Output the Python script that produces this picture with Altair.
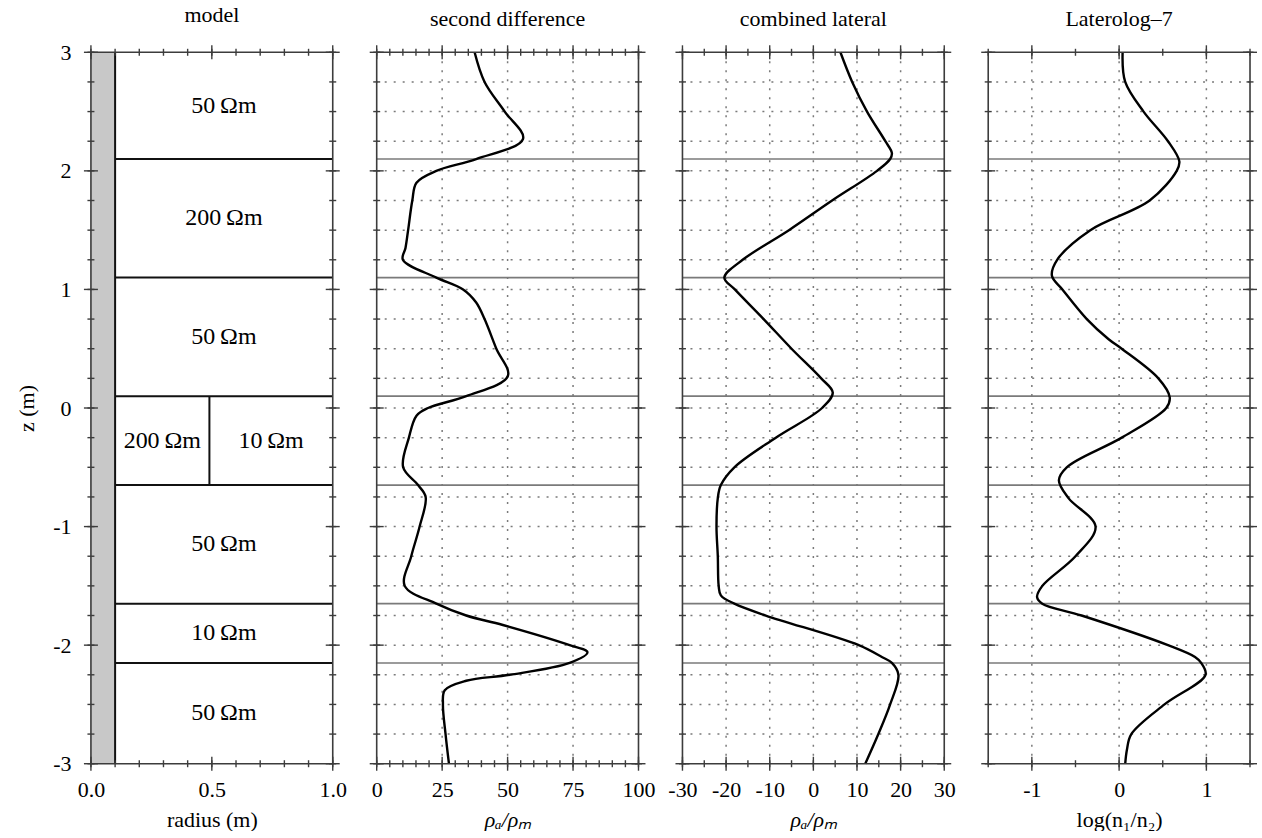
import numpy as np
import pandas as pd
import altair as alt

FONT = "Liberation Serif"
FS = 22
H = 712
W_MODEL = 242
W_LOG = 262
INK = "#111111"
FRAME = "#3c3c3c"
GRID = "#7a7a7a"
LAYER_LINE = "#7a7a7a"
HYPHEN_MINUS = "replace(datum.label, '\u2212', '-')"

# ---- depth axis -------------------------------------------------------------
Z_DOMAIN = [-3, 3]
Z_MAJOR = [-3, -2, -1, 0, 1, 2, 3]
Z_MINOR = [float(z) for z in np.round(np.arange(-3, 3.001, 0.25), 2)]
Z_GRID = [z for z in Z_MINOR if -3 < z < 3]

# ---- formation model --------------------------------------------------------
BOUNDARY_Z = [2.1, 1.1, 0.1, -0.65, -1.65, -2.15]
BOREHOLE_R = 0.1
OUTER_R = 1.0
INVADED_R = 0.49
INVADED_TOP = 0.1
INVADED_BOTTOM = -0.65
LAYER_LABELS = ["50\u2009Ωm", "200\u2009Ωm", "50\u2009Ωm", "200\u2009Ωm",
                "10\u2009Ωm", "50\u2009Ωm", "10\u2009Ωm", "50\u2009Ωm"]
LAYER_LABEL_R = [0.55, 0.55, 0.55, 0.295, 0.745, 0.55, 0.55, 0.55]
LAYER_LABEL_Z = [2.55, 1.6, 0.6, -0.275, -0.275, -1.15, -1.9, -2.575]

# ---- logs ---------------------------------------------------------------------
SECOND_DIFF_Z = [3.0, 2.75, 2.5, 2.27, 2.1, 2.0, 1.9, 1.75, 1.5, 1.35, 1.25,
                 1.1, 1.0, 0.89, 0.75, 0.5, 0.27, 0.1, 0.0, -0.065,
                 -0.25, -0.5, -0.65, -0.75, -1.0, -1.25, -1.5, -1.65, -1.75,
                 -1.83, -2.0, -2.06, -2.15, -2.25, -2.30, -2.38, -2.5, -2.75,
                 -3.0]
SECOND_DIFF = [37.4, 41.2, 48.9, 55.9, 38.0, 22.8, 15.2, 13.6, 12.0, 11.0, 10.0,
               22.8, 33.0, 38.0, 41.2, 45.7, 50.1, 34.2, 19.6, 15.2,
               12.3, 10.1, 15.8, 18.7, 16.4, 13.2, 10.7, 22.8, 34.2,
               48.2, 73.7, 80.5, 73.7, 50.8, 34.2, 26.0, 25.3, 26.3,
               27.6]

COMBINED_Z = [3.0, 2.75, 2.5, 2.25, 2.15, 2.1, 2.0, 1.75, 1.5, 1.25, 1.1, 1.0,
              0.75, 0.5, 0.25, 0.13, 0.0, -0.25, -0.5, -0.65, -0.76,
              -1.0, -1.25, -1.5, -1.58, -1.65, -1.75, -2.0, -2.1, -2.15,
              -2.25, -2.5, -2.75, -3.0]
COMBINED = [6.2, 8.9, 12.3, 16.5, 18.0, 17.6, 14.6, 4.3, -5.6, -16.2, -20.4,
            -18.0, -11.4, -5.0, 1.8, 4.45, 2.0, -8.6, -18.1, -21.2,
            -21.9, -22.2, -21.9, -21.7, -21.2, -18.1, -10.9, 10.4, 15.7,
            18.0, 19.5, 17.6, 14.9, 11.9]

LL7_Z = [3.0, 2.75, 2.5, 2.25, 2.08, 2.0, 1.75, 1.5, 1.25, 1.115, 1.0, 0.75,
         0.58, 0.5, 0.25, 0.09, 0.0, -0.25, -0.5, -0.61, -0.76, -1.0, -1.25,
         -1.5, -1.595, -1.65, -1.75, -2.0, -2.1, -2.15, -2.25, -2.5, -2.75,
         -2.88, -3.0]
LL7 = [0.04, 0.07, 0.28, 0.56, 0.69, 0.66, 0.35, -0.33, -0.71, -0.77, -0.65,
       -0.37, -0.12, 0.03, 0.45, 0.58, 0.54, 0.03, -0.60, -0.69, -0.58, -0.27,
       -0.50, -0.88, -0.94, -0.88, -0.43, 0.56, 0.87, 0.94, 0.99, 0.52, 0.14,
       0.09, 0.07]

ZS = alt.Scale(domain=Z_DOMAIN, nice=False, zero=False)
MAJOR_HALF = 7
MINOR_HALF = 3.5


def frame_and_ticks(width, xs, x_minor, x_major, xax, yax):
    """Panel frame plus tick marks that straddle all four edges."""
    layers = []
    frame = alt.Chart(pd.DataFrame({"k": [0]})).mark_rect(
        filled=False, stroke=FRAME, strokeWidth=1.6
    ).encode(x=alt.value(0), x2=alt.value(width), y=alt.value(0), y2=alt.value(H))
    layers.append(frame)
    for zvals, half in ((Z_MINOR, MINOR_HALF), (Z_MAJOR, MAJOR_HALF)):
        df = pd.DataFrame({"z": zvals})
        layers.append(alt.Chart(df).mark_rule(color=FRAME, strokeWidth=1.4).encode(
            y=alt.Y("z:Q", scale=ZS, axis=yax), x=alt.value(-half), x2=alt.value(half)))
        layers.append(alt.Chart(df).mark_rule(color=FRAME, strokeWidth=1.4).encode(
            y=alt.Y("z:Q", scale=ZS, axis=yax), x=alt.value(width - half), x2=alt.value(width + half)))
    for xvals, half in ((x_minor, MINOR_HALF), (x_major, MAJOR_HALF)):
        df = pd.DataFrame({"v": xvals})
        layers.append(alt.Chart(df).mark_rule(color=FRAME, strokeWidth=1.4).encode(
            x=alt.X("v:Q", scale=xs, axis=xax), y=alt.value(H - half), y2=alt.value(H + half)))
        layers.append(alt.Chart(df).mark_rule(color=FRAME, strokeWidth=1.4).encode(
            x=alt.X("v:Q", scale=xs, axis=xax), y=alt.value(-half), y2=alt.value(half)))
    return layers


def panel_title(text):
    return alt.TitleParams(text, frame="group", anchor="middle", offset=14,
                           font=FONT, fontSize=FS, fontWeight="normal", color="black")


def x_axis(values, title, fmt=None, italic=False):
    kw = dict(values=values, title=title, labelPadding=16, titlePadding=9,
              tickSize=0, ticks=False, domain=False, grid=False, labelFlush=False,
              labelExpr=HYPHEN_MINUS)
    if fmt:
        kw["format"] = fmt
    if italic:
        kw["titleFontStyle"] = "italic"
    return alt.Axis(**kw)


# ---- model panel ----------------------------------------------------------------
xs_model = alt.Scale(domain=[0, 1], nice=False, zero=False)
x_ax_model = x_axis([0.0, 0.5, 1.0], "radius (m)", fmt=".1f")
y_ax_model = alt.Axis(values=Z_MAJOR, title="z (m)", labelPadding=20, titlePadding=14,
                      tickSize=0, ticks=False, domain=False, grid=False,
                      labelExpr=HYPHEN_MINUS)

model_layers = [
    alt.Chart(pd.DataFrame({"r0": [0.0], "r1": [BOREHOLE_R], "z0": [-3], "z1": [3]}))
    .mark_rect(fill="#c8c8c8")
    .encode(x=alt.X("r0:Q", scale=xs_model, axis=x_ax_model), x2="r1:Q",
            y=alt.Y("z0:Q", scale=ZS, axis=y_ax_model), y2="z1:Q"),
    alt.Chart(pd.DataFrame({"r": [BOREHOLE_R], "z0": [-3], "z1": [3]}))
    .mark_rule(color=INK, strokeWidth=2)
    .encode(x=alt.X("r:Q", scale=xs_model, axis=x_ax_model),
            y=alt.Y("z0:Q", scale=ZS, axis=y_ax_model), y2="z1:Q"),
    alt.Chart(pd.DataFrame({"r0": BOREHOLE_R, "r1": OUTER_R, "z": BOUNDARY_Z}))
    .mark_rule(color=INK, strokeWidth=2)
    .encode(x=alt.X("r0:Q", scale=xs_model, axis=x_ax_model), x2="r1:Q",
            y=alt.Y("z:Q", scale=ZS, axis=y_ax_model)),
    alt.Chart(pd.DataFrame({"r": [INVADED_R], "z0": [INVADED_BOTTOM], "z1": [INVADED_TOP]}))
    .mark_rule(color=INK, strokeWidth=2)
    .encode(x=alt.X("r:Q", scale=xs_model, axis=x_ax_model),
            y=alt.Y("z0:Q", scale=ZS, axis=y_ax_model), y2="z1:Q"),
    alt.Chart(pd.DataFrame({"r": LAYER_LABEL_R, "z": LAYER_LABEL_Z, "label": LAYER_LABELS}))
    .mark_text(font=FONT, fontSize=24, color="black")
    .encode(x=alt.X("r:Q", scale=xs_model, axis=x_ax_model),
            y=alt.Y("z:Q", scale=ZS, axis=y_ax_model), text="label:N"),
]
model_layers += frame_and_ticks(
    W_MODEL, xs_model,
    [float(v) for v in np.round(np.arange(0, 1.001, 0.1), 1)], [0.0, 0.5, 1.0],
    x_ax_model, y_ax_model)
model = alt.layer(*model_layers).properties(width=W_MODEL, height=H, title=panel_title("model"))


def log_panel(title, x_domain, x_minor, x_major, grid_x, xax, z, v):
    xs = alt.Scale(domain=x_domain, nice=False, zero=False)
    layers = [
        alt.Chart(pd.DataFrame({"z": Z_GRID}))
        .mark_rule(color=GRID, strokeWidth=1.5, strokeDash=[2, 7])
        .encode(y=alt.Y("z:Q", scale=ZS, axis=None)),
        alt.Chart(pd.DataFrame({"v": grid_x}))
        .mark_rule(color=GRID, strokeWidth=1.5, strokeDash=[2, 7])
        .encode(x=alt.X("v:Q", scale=xs, axis=xax)),
        alt.Chart(pd.DataFrame({"z": BOUNDARY_Z}))
        .mark_rule(color=LAYER_LINE, strokeWidth=1.6)
        .encode(y=alt.Y("z:Q", scale=ZS, axis=None)),
        alt.Chart(pd.DataFrame({"i": range(len(z)), "z": z, "v": v}))
        .mark_line(color="black", strokeWidth=2.4, interpolate="catmull-rom")
        .encode(x=alt.X("v:Q", scale=xs, axis=xax),
                y=alt.Y("z:Q", scale=ZS, axis=None), order="i:Q"),
    ]
    layers += frame_and_ticks(W_LOG, xs, x_minor, x_major, xax, None)
    return alt.layer(*layers).properties(width=W_LOG, height=H, title=panel_title(title))


second = log_panel(
    "second difference", [0, 100], list(range(0, 101, 5)), [0, 25, 50, 75, 100],
    [25, 50, 75], x_axis([0, 25, 50, 75, 100], "ρₐ/ρₘ", italic=True),
    SECOND_DIFF_Z, SECOND_DIFF)
combined = log_panel(
    "combined lateral", [-30, 30], list(range(-30, 31, 5)), list(range(-30, 31, 10)),
    [-20, -10, 0, 10, 20], x_axis(list(range(-30, 31, 10)), "ρₐ/ρₘ", italic=True),
    COMBINED_Z, COMBINED)
ll7 = log_panel(
    "Laterolog–7", [-1.5, 1.5], [-1.5, -1.0, -0.5, 0.0, 0.5, 1.0, 1.5], [-1, 0, 1],
    [-1, 0, 1], x_axis([-1, 0, 1], "log(n₁/n₂)"),
    LL7_Z, LL7)

chart = (
    alt.hconcat(model, second, combined, ll7, spacing=44)
    .properties(bounds="flush", padding={"left": 15, "top": 4, "right": 4, "bottom": 0},
                background="white")
    .configure_view(stroke=None)
    .configure_axis(labelFont=FONT, labelFontSize=FS, titleFont=FONT, titleFontSize=FS,
                    titleFontWeight="normal", labelColor="black", titleColor="black")
    .configure_title(font=FONT, fontSize=FS, fontWeight="normal", color="black")
)

chart.save("out.html", embed_options={"renderer": "svg", "actions": False})
